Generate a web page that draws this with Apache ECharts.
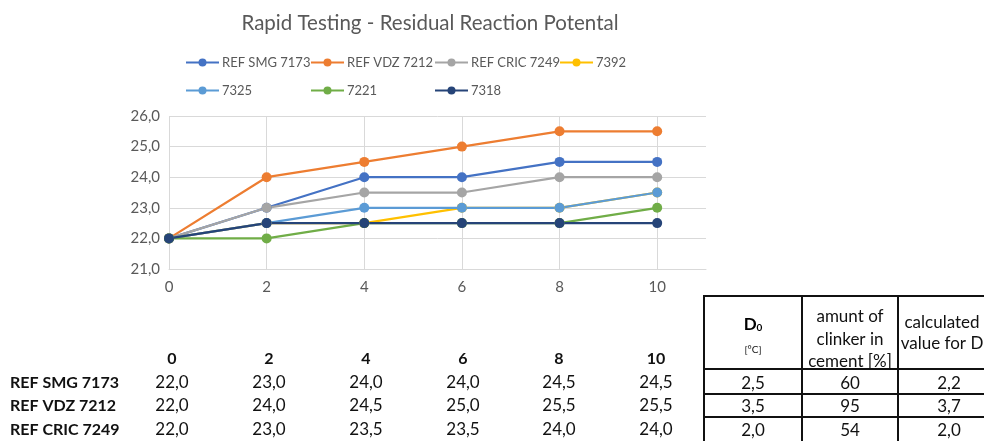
<!DOCTYPE html>
<html>
<head>
<meta charset="utf-8">
<script src="https://cdn.jsdelivr.net/npm/echarts@6/dist/echarts.min.js"></script>
<style>
html,body{margin:0;padding:0;background:#fff;}
#main{width:984px;height:441px;}
</style>
</head>
<body>
<div id="main"></div>
<script>
// ---- data ----
const title = 'Rapid Testing - Residual Reaction Potental';
const xValues = [0, 2, 4, 6, 8, 10];
const seriesNames = ['REF SMG 7173', 'REF VDZ 7212', 'REF CRIC 7249', '7392', '7325', '7221', '7318'];
const smg7173 = [22, 23, 24, 24, 24.5, 24.5];
const vdz7212 = [22, 24, 24.5, 25, 25.5, 25.5];
const cric7249 = [22, 23, 23.5, 23.5, 24, 24];
const s7392 = [22, 22.5, 22.5, 23, 23, 23.5];
const s7325 = [22, 22.5, 23, 23, 23, 23.5];
const s7221 = [22, 22, 22.5, 22.5, 22.5, 23];
const s7318 = [22, 22.5, 22.5, 22.5, 22.5, 22.5];
const seriesValues = [smg7173, vdz7212, cric7249, s7392, s7325, s7221, s7318];
const colors = ['#4472C4', '#ED7D31', '#A5A5A5', '#FFC000', '#5B9BD5', '#70AD47', '#264478'];

// lower-left data table (first rows visible)
const tableRowNames = ['REF SMG 7173', 'REF VDZ 7212', 'REF CRIC 7249'];
const tableRows = [smg7173, vdz7212, cric7249];

// right table
const d0Values = [2.5, 3.5, 2.0];
const clinkerValues = [60, 95, 54];
const calcValues = [2.2, 3.7, 2.0];

// ---- chart ----
const FONT = 'Lato, "Open Sans", sans-serif';
const fmt = v => v.toFixed(1).replace('.', ',');
const chart = echarts.init(document.getElementById('main'));

const legendPos = [[180, 51], [305, 51], [429, 51], [554, 51], [180, 79], [305, 79], [429, 79]];
const legends = seriesNames.map((n, i) => ({
  data: [n], left: legendPos[i][0], top: legendPos[i][1],
  itemWidth: 33, itemHeight: 10, itemGap: 0, selectedMode: false,
  textStyle: { color: '#595959', fontSize: 13, fontFamily: FONT, padding: [0, 0, 0, -2] }
}));

const series = seriesNames.map((n, i) => ({
  name: n, type: 'line', data: xValues.map((x, j) => [x, seriesValues[i][j]]),
  symbol: 'circle', symbolSize: 10, color: colors[i],
  lineStyle: { width: 2.25, color: colors[i] },
  itemStyle: { color: colors[i] },
  animation: false
}));

// graphic: tables
const g = [];
const txtColor = '#111';
const colX = [172, 269, 366, 463, 559, 656];
const rowY = [383, 406, 430];
xValues.forEach((x, j) => g.push({ type: 'text', style: { text: String(x), x: colX[j], y: 359, textAlign: 'center', textVerticalAlign: 'middle', fill: txtColor, font: 'bold 16px ' + FONT } }));
tableRowNames.forEach((n, i) => {
  g.push({ type: 'text', style: { text: n, x: 10, y: rowY[i], textAlign: 'left', textVerticalAlign: 'middle', fill: txtColor, font: 'bold 16px ' + FONT } });
  tableRows[i].forEach((v, j) => g.push({ type: 'text', style: { text: fmt(v), x: colX[j], y: rowY[i], textAlign: 'center', textVerticalAlign: 'middle', fill: txtColor, font: '17px ' + FONT } }));
});
// right table borders
const bc = '#111';
const hl = (x1, y1, x2, y2) => g.push({ type: 'line', shape: { x1, y1, x2, y2 }, style: { stroke: bc, lineWidth: 2 } });
hl(704, 296, 990, 296);
hl(704, 369, 990, 369);
hl(704, 394, 990, 394);
hl(704, 417, 990, 417);
hl(704, 295, 704, 445);
hl(802, 295, 802, 445);
hl(898, 295, 898, 445);
// header texts
g.push({ type: 'text', style: { text: '{d|D}{s|0}', x: 753, y: 325, textAlign: 'center', textVerticalAlign: 'middle', rich: { d: { fontSize: 17, fontWeight: 'bold', fontFamily: FONT, color: txtColor }, s: { fontSize: 10, fontWeight: 'bold', fontFamily: FONT, color: txtColor, padding: [6, 0, 0, 0] } } } });
g.push({ type: 'text', style: { text: '[°C]', x: 753, y: 350, textAlign: 'center', textVerticalAlign: 'middle', fill: txtColor, font: '10px ' + FONT } });
['amunt of', 'clinker in', 'cement [%]'].forEach((t, i) => g.push({ type: 'text', style: { text: t, x: 850, y: 317 + i * 22.5, textAlign: 'center', textVerticalAlign: 'middle', fill: txtColor, font: '17px ' + FONT } }));
['calculated', 'value for D'].forEach((t, i) => g.push({ type: 'text', style: { text: t, x: 942, y: 323 + i * 21, textAlign: 'center', textVerticalAlign: 'middle', fill: txtColor, font: '17px ' + FONT } }));
[d0Values.map(fmt), clinkerValues.map(String), calcValues.map(fmt)].forEach((col, c) => {
  const cx = [753, 850, 949][c];
  col.forEach((t, i) => g.push({ type: 'text', style: { text: t, x: cx, y: rowY[i] + 1, textAlign: 'center', textVerticalAlign: 'middle', fill: txtColor, font: '17px ' + FONT } }));
});

chart.setOption({
  animation: false,
  backgroundColor: '#fff',
  title: { text: title, left: 425, top: 8, textAlign: 'center', textStyle: { color: '#595959', fontSize: 20.5, fontWeight: 'normal', fontFamily: FONT } },
  legend: legends,
  grid: { left: 169, right: 278, top: 116, bottom: 172, containLabel: false },
  xAxis: {
    type: 'value', min: 0, max: 11, interval: 2,
    axisLine: { show: true, lineStyle: { color: '#d9d9d9', width: 1 } },
    axisTick: { show: false },
    axisLabel: { color: '#595959', fontSize: 15, fontFamily: FONT, margin: 11, showMaxLabel: false, formatter: v => (v > 10 ? '' : String(v)) },
    splitLine: { show: true, showMaxLine: false, lineStyle: { color: '#d9d9d9', width: 1 } }
  },
  yAxis: {
    type: 'value', min: 21, max: 26, interval: 1,
    axisLine: { show: false }, axisTick: { show: false },
    axisLabel: { color: '#595959', fontSize: 15, fontFamily: FONT, margin: 9, formatter: fmt },
    splitLine: { show: true, lineStyle: { color: '#d9d9d9', width: 1 } }
  },
  series: series,
  graphic: g
});
</script>
</body>
</html>
